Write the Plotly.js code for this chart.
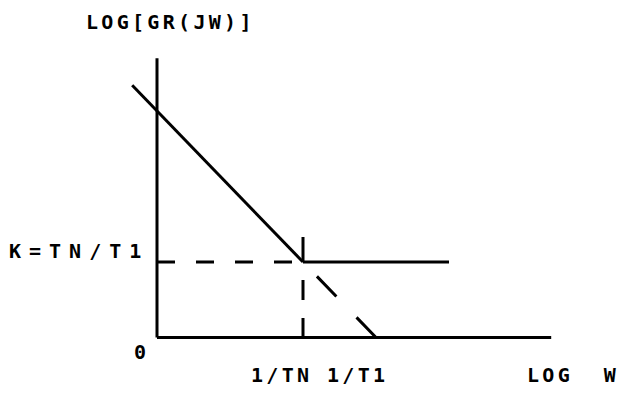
<!DOCTYPE html>
<html>
<head>
<meta charset="utf-8">
<script src="https://cdn.plot.ly/plotly-3.0.1.min.js"></script>
<style>
  html, body { margin: 0; padding: 0; background: #ffffff; }
  #chart { width: 626px; height: 395px; }
</style>
</head>
<body>
<div id="chart"></div>
<script>
// Asymptotic Bode magnitude sketch of a PI controller (log-log, unit-free)
// Break frequencies on the log-w axis and gain level K on the log|G| axis
var breakX = [1, 1.5];                 // log(1/TN), log(1/T1)
var gainK = 1;                         // log K
var xTickText = ['1/TN', '1/T1'];
var yTickVals = [0, gainK];
var yTickText = ['0', 'K=TN/T1'];

// Coordinate axes drawn as lines
var yAxisX = [0, 0];
var yAxisY = [0, 3.7];
var xAxisX = [0, 2.7];
var xAxisY = [0, 0];

// Integrating branch (slope -2 in these units) down to the corner
var intX = [-0.17, 1];
var intY = [3.34, 1];
// Proportional branch: constant K above 1/TN
var propX = [1, 2.0];
var propY = [1, 1];
// Continuation of the integrator below K, reaching 0 at 1/T1
var contX = [1.5, 1];
var contY = [0, 1];
// Dashed K level left of the corner
var kLineX = [0, 1];
var kLineY = [1, 1];
// Dashed marker at 1/TN
var tnLineX = [1, 1];
var tnLineY = [1.33, 0];

var ink = '#000000';
var W = 3;

function seg(x, y, dash) {
  return {
    type: 'scatter', mode: 'lines', x: x, y: y,
    line: { color: ink, width: W, dash: dash || 'solid' },
    hoverinfo: 'skip', showlegend: false
  };
}

var traces = [
  seg(yAxisX, yAxisY),
  seg(xAxisX, xAxisY),
  seg(kLineX, kLineY, '18px,21px'),
  seg(tnLineX, tnLineY, '25px,18px,20px,18px'),
  seg(contX, contY, '28px,29px'),
  seg(intX, intY),
  seg(propX, propY)
];

var fontFam = '"DejaVu Sans Mono", "Liberation Mono", monospace';
function spaced(t, px) {
  return '<span style="letter-spacing:' + px + 'px">' + t + '</span>';
}
function label(x, y, text, xanchor, xshift, yshift, ls) {
  return {
    xref: 'x', yref: 'y', x: x, y: y,
    text: '<b>' + spaced(text, ls) + '</b>',
    showarrow: false, xanchor: xanchor, yanchor: 'middle',
    xshift: xshift, yshift: yshift,
    font: { family: fontFam, size: 20, color: ink }
  };
}

var annotations = [
  label(-0.486, 4.185, 'LOG[GR(JW)]', 'left', -2, 0, 3.3),
  label(2.534, xAxisY[0], 'LOG  W', 'left', -2, -37.5, 3.3),
  label(0, yTickVals[1], yTickText[1], 'right', -6, 11, 8),
  label(0, yTickVals[0], yTickText[0], 'right', -6, -14.5, 3.3),
  label(breakX[0], xAxisY[0], xTickText[0], 'right', 11, -37.5, 3.3),
  label(breakX[1], xAxisY[0], xTickText[1], 'right', 14, -37.5, 3.3)
];

var layout = {
  width: 626, height: 395,
  margin: { l: 0, r: 0, t: 0, b: 0 },
  paper_bgcolor: '#ffffff', plot_bgcolor: '#ffffff',
  showlegend: false,
  xaxis: { range: [-157 / 146, 469 / 146], visible: false, fixedrange: true },
  yaxis: { range: [-57.5 / 75.5, 337.5 / 75.5], visible: false, fixedrange: true },
  annotations: annotations
};

Plotly.newPlot('chart', traces, layout, { displayModeBar: false, staticPlot: true });
</script>
</body>
</html>
